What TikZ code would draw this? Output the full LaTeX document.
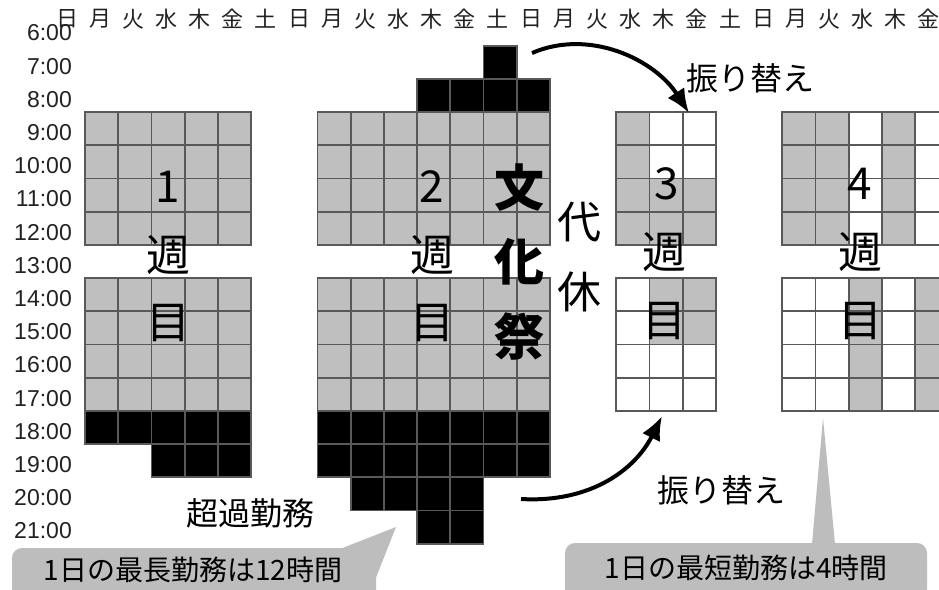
\documentclass[tikz,border=0pt]{standalone}
\usepackage{fontspec}
\setmainfont{Liberation Sans}
\newfontfamily\jp{Noto Sans CJK JP}
\usetikzlibrary{arrows.meta}
\definecolor{cg}{HTML}{BFBFBF}
\definecolor{cl}{HTML}{595959}
\definecolor{co}{HTML}{BDBDBD}
\definecolor{tx}{HTML}{222222}
\newcommand\cellbox[3]{\filldraw[cellsty,fill=#3] ({51.8+33.2*#1},{-186.8+33.2*#2}) rectangle ++(33.2,33.2);}
\begin{document}
\begin{tikzpicture}[x=1pt,y=-1pt,
 cellsty/.style={draw=cl,line width=1.8pt},
 day/.style={font=\jp\fontsize{22}{24}\selectfont, text=tx, inner sep=0},
 tm/.style={font=\fontsize{23}{25}\selectfont, text=tx, inner sep=0, anchor=east},
 wk/.style={font=\jp\fontsize{44}{48}\selectfont, inner sep=0},
 fest/.style={font=\jp\bfseries\fontsize{50}{54}\selectfont, inner sep=0},
 lbl/.style={font=\jp\fontsize{32}{36}\selectfont, inner sep=0},
 cotext/.style={font=\jp\fontsize{28}{32}\selectfont, inner sep=0},
 arr/.style={line width=4pt, -{Latex[length=24pt,width=20pt]}},
]
\useasboundingbox (0,0) rectangle (939,589);
\clip (0,0) rectangle (939,589);
\fill[white] (0,0) rectangle (939,589);

% week 1
\foreach \k in {1,...,5}{\foreach \h in {9,10,11,12,14,15,16,17}{\cellbox{\k}{\h}{cg}}\cellbox{\k}{18}{black}}
\foreach \k in {3,4,5}{\cellbox{\k}{19}{black}}
% week 2
\foreach \k in {8,...,14}{\foreach \h in {9,10,11,12,14,15,16,17}{\cellbox{\k}{\h}{cg}}\cellbox{\k}{18}{black}\cellbox{\k}{19}{black}}
\foreach \k in {9,...,12}{\cellbox{\k}{20}{black}}
\foreach \k in {11,12}{\cellbox{\k}{21}{black}}
\foreach \k in {11,...,14}{\cellbox{\k}{8}{black}}
\cellbox{13}{7}{black}
% week 3
\foreach \h in {9,10,11,12}{\cellbox{17}{\h}{cg}}
\foreach \h in {14,15,16,17}{\cellbox{17}{\h}{white}}
\foreach \k in {18,19}{
  \foreach \h/\c in {9/white,10/white,11/cg,12/cg,14/cg,15/cg,16/white,17/white}{\cellbox{\k}{\h}{\c}}}
% week 4
\foreach \k in {22,23,25}{
  \foreach \h/\c in {9/cg,10/cg,11/cg,12/cg,14/white,15/white,16/white,17/white}{\cellbox{\k}{\h}{\c}}}
\foreach \k in {24,26}{
  \foreach \h/\c in {9/white,10/white,11/white,12/white,14/cg,15/cg,16/cg,17/cg}{\cellbox{\k}{\h}{\c}}}

% day labels
\foreach \d [count=\i from 0] in {日,月,火,水,木,金,土,日,月,火,水,木,金,土,日,月,火,水,木,金,土,日,月,火,水,木,金}
  {\node[day] (d\i) at ({67+33.15*\i},19) {\d};}
% time labels
\foreach \h in {6,...,21}
  {\node[tm] (t\h) at (72,{132.5+33.2*(\h-9)}) {\h:00};}

% week labels
\node[wk] (w1a) at (168,187) {1};
\node[wk] (w1b) at (168,255) {週};
\node[wk] (w1c) at (168,323) {目};
\node[wk] (w2a) at (432,187) {2};
\node[wk] (w2b) at (432,255) {週};
\node[wk] (w2c) at (432,323) {目};
\node[wk] (w3a) at (667,184) {3};
\node[wk] (w3b) at (664,252) {週};
\node[wk] (w3c) at (664,321) {目};
\node[wk] (w4a) at (860,184) {4};
\node[wk] (w4b) at (860,252) {週};
\node[wk] (w4c) at (860,321) {目};

\node[fest] (f1) at (519,188) {文};
\node[fest] (f2) at (519,262) {化};
\node[fest] (f3) at (519,337) {祭};

\node[wk] (dk1) at (579,222) {代};
\node[wk] (dk2) at (579,292) {休};

% arrows
\coordinate (a1s) at (532,53);
\coordinate (a1e) at (689,113);
\draw[arr] (a1s) .. controls (590,28) and (655,60) .. (a1e);
\coordinate (a2s) at (521,499);
\coordinate (a2e) at (662,416);
\draw[arr] (a2s) .. controls (590,503) and (635,470) .. (a2e);
\node[lbl] (fk1) at (750,78) {振り替え};
\node[lbl] (fk2) at (721,490) {振り替え};
\node[lbl] (ot) at (250,513) {超過勤務};

% callouts
\fill[co, rounded corners=10pt] (12,548) rectangle (376,620);
\fill[co] (340,549) -- (396,527) -- (375,580) -- (375,620) -- (340,620) -- cycle;
\node[cotext] (c1) at (193,570) {1日の最長勤務は12時間};
\fill[co, rounded corners=10pt] (565,543) rectangle (927,620);
\fill[co] (812,544) -- (823,418) -- (835,544) -- cycle;
\node[cotext] (c2) at (746,568) {1日の最短勤務は4時間};
\end{tikzpicture}
\end{document}
